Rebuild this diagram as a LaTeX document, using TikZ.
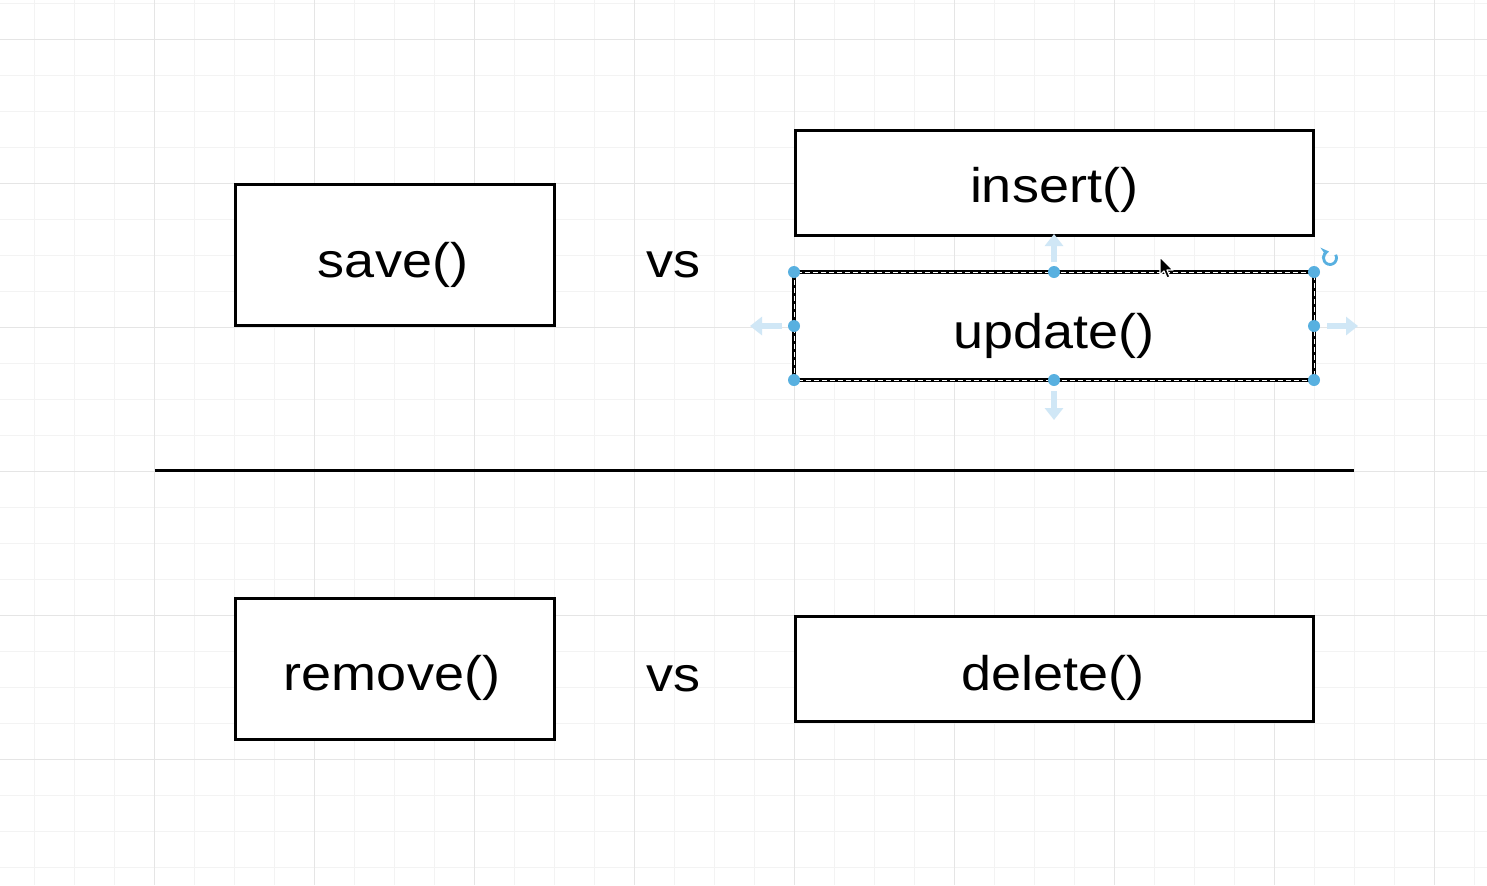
\documentclass[tikz,border=0pt]{standalone}
\usepackage{fontspec}
\setmainfont{Liberation Sans}
\usepackage{graphicx}
\usetikzlibrary{arrows.meta}
\definecolor{gridminor}{RGB}{243,243,243}
\definecolor{gridmajor}{RGB}{229,229,229}
\definecolor{handle}{RGB}{88,176,224}
\definecolor{hint}{RGB}{208,231,246}
\tikzset{
  box/.style={draw=black, line width=1.7pt, fill=white, inner sep=0pt, outer sep=0pt, rectangle},
  lbl/.style={anchor=base, inner sep=0pt, font=\fontsize{27pt}{32pt}\selectfont},
  hdl/.style={circle, fill=handle, inner sep=0pt, minimum size=6pt},
  hintarrow/.style={draw=hint, line width=3pt, -{Triangle[length=6pt,width=9pt]}},
  gminor/.style={draw=gridminor, line width=0.5pt},
  gmajor/.style={draw=gridmajor, line width=0.5pt},
}
\begin{document}
\begin{tikzpicture}[x=0.5pt,y=-0.5pt]
\useasboundingbox (0,0) rectangle (1487,885);
\fill[white] (0,0) rectangle (1487,885);
% grid
\foreach \i in {0,...,38} \draw[gminor] ({-6+40*\i},0) -- ({-6+40*\i},885);
\foreach \j in {0,...,24} \draw[gminor] (0,{3+36*\j}) -- (1487,{3+36*\j});
\foreach \i in {0,...,9} \draw[gmajor] ({-6+160*\i},0) -- ({-6+160*\i},885);
\foreach \j in {0,...,5} \draw[gmajor] (0,{39+144*\j}) -- (1487,{39+144*\j});

% boxes
\node[box, minimum width=159.5pt, minimum height=70.5pt] (save) at (395,255) {};
\node[box, minimum width=259pt, minimum height=52.5pt] (insert) at (1054.5,183) {};
\node[box, line width=1.9pt, minimum width=260pt, minimum height=54pt] (update) at (1054,326) {};
\draw[white, line width=0.5pt, dash pattern=on 2.5pt off 1.5pt] (update.north west) rectangle (update.south east);
\node[box, minimum width=159.5pt, minimum height=70.5pt] (remove) at (395,669) {};
\node[box, minimum width=259pt, minimum height=52.5pt] (delete) at (1054.5,669) {};

% labels
\node[lbl] (saveT) at (393,277) {\scalebox{1}[0.9]{save()}};
\node[lbl] (insertT) at (1054,202) {\scalebox{1}[0.9]{insert()}};
\node[lbl] (updateT) at (1054,348) {\scalebox{1}[0.9]{update()}};
\node[lbl] (removeT) at (392,690) {\scalebox{1}[0.9]{remove()}};
\node[lbl] (deleteT) at (1053,690) {\scalebox{1}[0.9]{delete()}};
\node[lbl] (vs1) at (673.5,277) {\scalebox{1}[0.9]{vs}};
\node[lbl] (vs2) at (673.5,691) {\scalebox{1}[0.9]{vs}};

% divider
\coordinate (lineL) at (155,470);
\coordinate (lineR) at (1354,470);
\draw[line width=1.5pt] (lineL) -- (lineR);

% selection hints
\draw[hintarrow] (1054,262) -- (1054,234);
\draw[hintarrow] (1054,391) -- (1054,420);
\draw[hintarrow] (782,326) -- (750,326);
\draw[hintarrow] (1327,326) -- (1358,326);

% handles
\foreach \a [count=\k] in {north west,north,north east,east,south east,south,south west,west}
  \node[hdl] (h\k) at (update.\a) {};

% rotate icon
\draw[handle, line width=1.4pt, -{Stealth[length=4pt,width=5pt]}] (1330,258) ++(-30:6.5) arc[start angle=-30, end angle=262, radius=6.5];

% cursor
\filldraw[fill=black, draw=white, line width=0.6pt, line join=round]
  (1160,257) -- (1160,275) -- (1164,271) -- (1167,278) -- (1170,277) -- (1167,270) -- (1173,270) -- cycle;
\end{tikzpicture}
\end{document}
